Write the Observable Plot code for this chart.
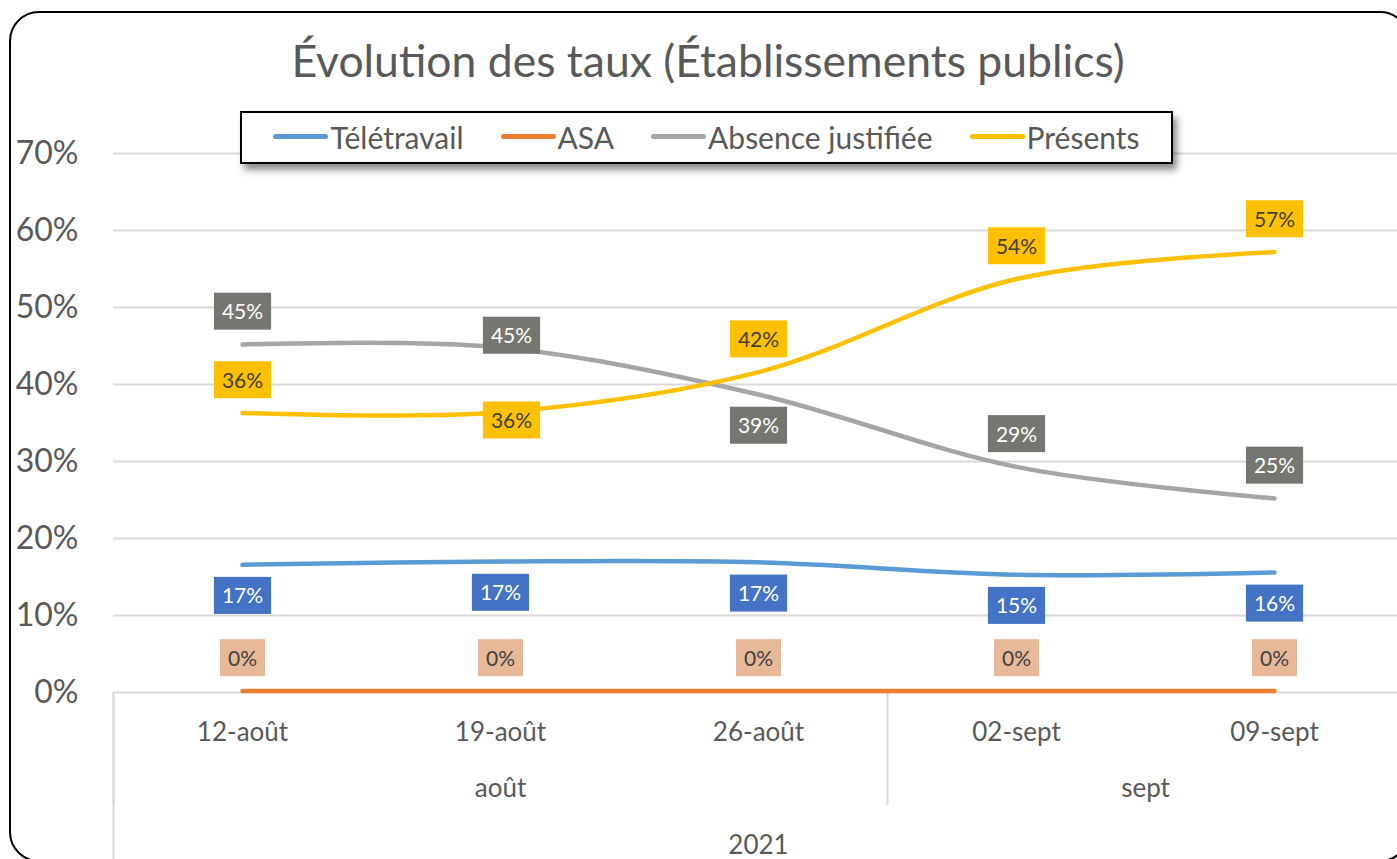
<!DOCTYPE html>
<html><head><meta charset="utf-8">
<script src="https://cdn.jsdelivr.net/npm/d3@7"></script>
<script src="https://cdn.jsdelivr.net/npm/@observablehq/plot@0.6"></script>
<style>
html,body{margin:0;padding:0;width:1397px;height:859px;overflow:hidden;background:#fff;}
#wrap{position:relative;width:1397px;height:859px;overflow:hidden;font-family:Lato,"Noto Sans",sans-serif;}
#frame{position:absolute;left:9px;top:11px;width:1401px;height:851px;border:2px solid #000;border-radius:30px;box-sizing:border-box;}
#chart{position:absolute;left:0;top:0;}
#title{position:absolute;left:0;width:1416px;top:38px;text-align:center;font-size:44.5px;line-height:44px;color:#595959;white-space:nowrap;}
#legend{position:absolute;left:240px;top:111px;width:933px;height:53px;box-sizing:border-box;border:2.5px solid #000;background:#fff;box-shadow:4px 6px 7px rgba(0,0,0,0.45);display:flex;align-items:center;justify-content:center;gap:37px;font-size:30px;color:#595959;padding-bottom:2px;}
.item{display:flex;align-items:center;gap:2px;white-space:nowrap;}
.sw{width:55px;height:5px;border-radius:3px;}
</style></head>
<body><div id="wrap"><div id="frame"></div><div id="chart"></div><div id="title"></div><div id="legend"></div></div>
<script>
// ---- data ----
const titleText = "Évolution des taux (Établissements publics)";
const dates = ["12-août","19-août","26-août","02-sept","09-sept"];
const year = "2021";
const seriesNames = ["Télétravail","ASA","Absence justifiée","Présents"];
const teletravail = [0.166, 0.170, 0.169, 0.153, 0.156];
const asa = [0.002, 0.002, 0.002, 0.002, 0.002];
const absence = [0.452, 0.448, 0.387, 0.293, 0.252];
const presents = [0.363, 0.364, 0.416, 0.537, 0.572];
const yTicks = [0, 0.1, 0.2, 0.3, 0.4, 0.5, 0.6, 0.7];

// ---- styles ----
const lineColors = ["#5B9BD5","#ED7D31","#A5A5A5","#FFC000"];
const boxColors = ["#4472C4","#E8B999","#767671","#FFC000"];
const boxText = ["#FFFFFF","#404040","#FFFFFF","#404040"];
const defaultPlace = ["below","above","above","above"];
const overrides = {"2-1":"upRight","3-1":"downRight","2-2":"below"};
const offsets = {above:[0,-32], below:[0,32], upRight:[11,-11], downRight:[11,9]};

const values = [teletravail, asa, absence, presents];
const rows = values.flatMap((vals, s) => vals.map((v, i) => ({series: seriesNames[s], s, i, v,
  place: overrides[`${s}-${i}`] || defaultPlace[s]})));

// month groups derived from date labels
const monthOf = d => d.split("-")[1];
const months = [...new Set(dates.map(monthOf))];
const idx = dates.map((d, i) => [monthOf(d), i]);
const monthCenters = months.map(m => d3.mean(idx.filter(([mm]) => mm === m), ([, i]) => i));
const monthBounds = [-0.5, ...months.map(m => d3.max(idx.filter(([mm]) => mm === m), ([, i]) => i) + 0.5)];

const pct = d3.format(".0%");
const labelMarks = [];
for (let s = 0; s < 4; s++) {
  for (const [place, [dx, dy]] of Object.entries(offsets)) {
    const sub = rows.filter(r => r.s === s && r.place === place);
    if (!sub.length) continue;
    labelMarks.push(Plot.text(sub, {x: "i", y: "v", text: d => pct(d.v), dx, dy,
      fill: boxText[s], fontSize: 21, className: `lbl lbl-s${s}`}));
  }
}

const chart = Plot.plot({
  width: 1397, height: 859,
  marginLeft: 113, marginRight: 0, marginTop: 153, marginBottom: 167,
  style: {fontFamily: "Lato, 'Noto Sans', sans-serif", color: "#595959", background: "transparent", overflow: "visible"},
  x: {type: "linear", domain: [-0.5, dates.length - 0.5], range: [113, 1403]},
  y: {domain: [0, 0.7]},
  color: {domain: seriesNames, range: lineColors},
  marks: [
    Plot.gridY(yTicks, {stroke: "#D9D9D9", strokeOpacity: 1, strokeWidth: 2}),
    Plot.axisY(yTicks, {tickSize: 0, tickPadding: 35, fontSize: 32, tickFormat: pct, fill: "#595959", label: null}),
    Plot.axisX(d3.range(dates.length), {tickSize: 0, tickPadding: 30, fontSize: 26, tickFormat: i => dates[i], fill: "#595959", label: null}),
    Plot.axisX(monthCenters, {tickSize: 0, tickPadding: 86, fontSize: 26, tickFormat: c => months[monthCenters.indexOf(c)], fill: "#595959", label: null}),
    Plot.axisX([(dates.length - 1) / 2], {tickSize: 0, tickPadding: 143, fontSize: 26, tickFormat: () => year, fill: "#595959", label: null}),
    Plot.axisX(monthBounds, {tickSize: 113, tickFormat: () => "", stroke: "#D9D9D9", strokeWidth: 2, label: null}),
    Plot.axisX([-0.5, dates.length - 0.5], {tickSize: 167, tickFormat: () => "", stroke: "#D9D9D9", strokeWidth: 2, label: null}),
    Plot.line(rows, {x: "i", y: "v", z: "series", stroke: "series", strokeWidth: 4.5, curve: "catmull-rom", strokeLinecap: "round"}),
    ...labelMarks
  ]
});
document.getElementById("chart").appendChild(chart);

// label backgrounds, placed from each rendered label's own box
const svgNS = "http://www.w3.org/2000/svg";
const root = chart.tagName.toLowerCase() === "svg" ? chart : chart.querySelector("svg");
const sb = root.getBoundingClientRect();
document.querySelectorAll("g.lbl").forEach(g => {
  const s = +[...g.classList].find(c => c.startsWith("lbl-s")).slice(5);
  const bg = document.createElementNS(svgNS, "g");
  g.querySelectorAll("text").forEach(t => {
    const tb = t.getBoundingClientRect();
    const cx = tb.x + tb.width / 2 - sb.x;
    const cy = tb.y + tb.height / 2 - sb.y + 0.5;
    const r = document.createElementNS(svgNS, "rect");
    r.setAttribute("x", cx - tb.width / 2 - 8);
    r.setAttribute("width", tb.width + 16);
    r.setAttribute("y", cy - 18.5);
    r.setAttribute("height", 37);
    r.setAttribute("fill", boxColors[s]);
    bg.appendChild(r);
  });
  g.parentNode.insertBefore(bg, g);
});

document.getElementById("title").textContent = titleText;
const leg = document.getElementById("legend");
seriesNames.forEach((n, k) => {
  const it = document.createElement("div"); it.className = "item";
  const sw = document.createElement("div"); sw.className = "sw"; sw.style.background = lineColors[k];
  const tx = document.createElement("span"); tx.textContent = n;
  it.appendChild(sw); it.appendChild(tx); leg.appendChild(it);
});
</script></body></html>
